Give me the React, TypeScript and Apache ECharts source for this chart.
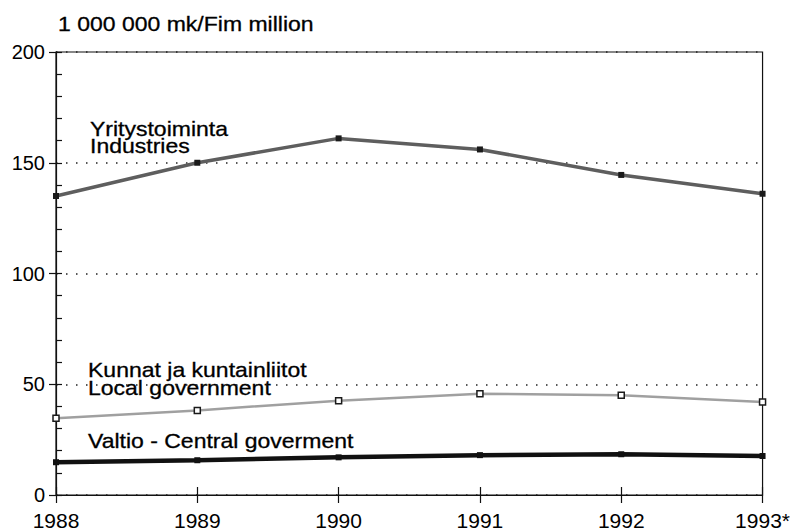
import React, { useEffect, useRef } from "react";
import * as echarts from "echarts";

const years = ["1988", "1989", "1990", "1991", "1992", "1993*"];
const industries = [135, 150, 161, 156, 144.5, 136];
const localGov = [34.6, 38.2, 42.6, 45.7, 45, 42];
const centralGov = [14.8, 15.7, 17, 18, 18.4, 17.6];
const yTicks = { min: 0, max: 200, major: 50, minor: 10 };

const unitTitle = "1 000 000 mk/Fim million";
const labelIndustries = ["Yritystoiminta", "Industries"];
const labelLocal = ["Kunnat ja kuntainliitot", "Local government"];
const labelCentral = "Valtio - Central goverment";

const FONT = "'Liberation Sans', Arial, Helvetica, sans-serif";

export default function App() {
  const ref = useRef<HTMLDivElement>(null);
  useEffect(() => {
    if (!ref.current) return;
    const chart = echarts.init(ref.current, undefined, { renderer: "svg" });
    const txt = (text: string, x: number, y: number) => ({
      type: "text",
      x,
      y,
      scaleX: 1.15,
      silent: true,
      style: {
        text,
        fill: "#000",
        stroke: "#000",
        lineWidth: 0.3,
        font: `20px ${FONT}`,
        textAlign: "left",
        textVerticalAlign: "middle",
      },
    });
    chart.setOption({
      animation: false,
      backgroundColor: "#fff",
      grid: {
        left: 56,
        right: 30,
        top: 52,
        bottom: 37,
        show: true,
        borderColor: "#111",
        borderWidth: 1.2,
        backgroundColor: "transparent",
      },
      xAxis: [
        {
          type: "category",
          data: years,
          boundaryGap: false,
          axisLine: { lineStyle: { color: "#111", width: 1.2 } },
          axisTick: { show: true, length: 8, lineStyle: { color: "#111", width: 1.2 } },
          axisLabel: { color: "#000", fontSize: 21, fontFamily: FONT, margin: 15 },
          splitLine: { show: false },
        },
        {
          type: "category",
          data: years,
          boundaryGap: false,
          position: "bottom",
          axisLine: { show: false },
          axisTick: { show: true, inside: true, length: 8, lineStyle: { color: "#111", width: 1.2 } },
          axisLabel: { show: false },
          splitLine: { show: false },
        },
      ],
      yAxis: [
        {
          type: "value",
          min: yTicks.min,
          max: yTicks.max,
          interval: yTicks.major,
          position: "left",
          axisLine: { show: true, lineStyle: { color: "#111", width: 1.2 } },
          axisTick: { show: true, length: 7, lineStyle: { color: "#111", width: 1.2 } },
          axisLabel: { color: "#000", fontSize: 20, fontFamily: FONT, margin: 11 },
          splitLine: { show: true, lineStyle: { color: "#222", width: 1.5, type: [1.5, 8.5] } },
        },
        {
          type: "value",
          min: yTicks.min,
          max: yTicks.max,
          interval: yTicks.minor,
          position: "left",
          axisLine: { show: false },
          axisTick: { show: true, inside: true, length: 6, lineStyle: { color: "#111", width: 1.2 } },
          axisLabel: { show: false },
          splitLine: { show: false },
        },
      ],
      series: [
        {
          name: "Industries",
          type: "line",
          data: industries,
          xAxisIndex: 0,
          yAxisIndex: 0,
          symbol: "rect",
          symbolSize: 6,
          lineStyle: { color: "#5e5e5e", width: 3.5 },
          itemStyle: { color: "#1a1a1a" },
          z: 3,
        },
        {
          name: "Local government",
          type: "line",
          data: localGov,
          xAxisIndex: 0,
          yAxisIndex: 0,
          symbol: "rect",
          symbolSize: 6,
          lineStyle: { color: "#a0a0a0", width: 2.5 },
          itemStyle: { color: "#fff", borderColor: "#1a1a1a", borderWidth: 1.5 },
          z: 3,
        },
        {
          name: "Central government",
          type: "line",
          data: centralGov,
          xAxisIndex: 0,
          yAxisIndex: 0,
          symbol: "rect",
          symbolSize: 6,
          lineStyle: { color: "#111", width: 4.5 },
          itemStyle: { color: "#111" },
          z: 3,
        },
      ],
      graphic: [
        txt(unitTitle, 58, 24),
        txt(labelIndustries[0], 90, 129),
        txt(labelIndustries[1], 90, 146),
        txt(labelLocal[0], 88, 370),
        txt(labelLocal[1], 88, 388),
        txt(labelCentral, 88, 441),
      ],
    });
    return () => chart.dispose();
  }, []);
  return (
    <div
      ref={ref}
      style={{ position: "fixed", left: 0, top: 0, width: 793, height: 532, background: "#fff" }}
    />
  );
}
